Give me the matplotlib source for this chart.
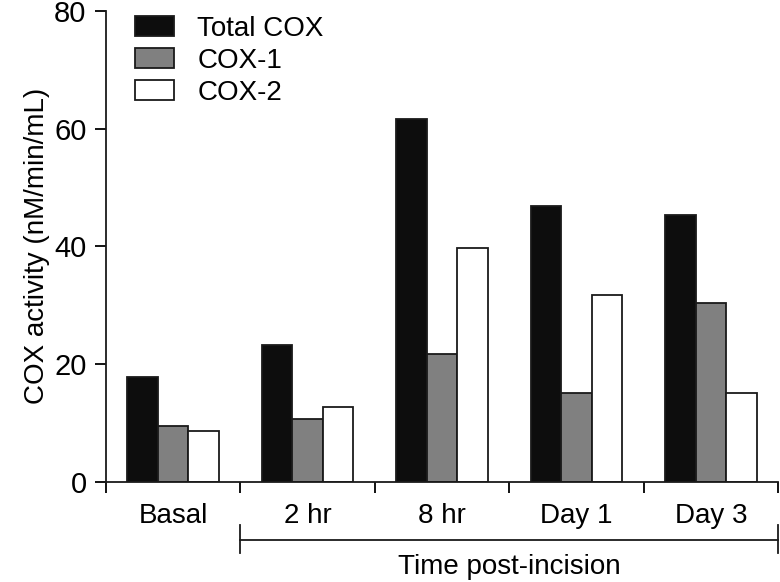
import numpy as np
import matplotlib
matplotlib.use('Agg')
import matplotlib.pyplot as plt
import matplotlib.transforms as mtransforms

plt.rcParams['font.family'] = ['Liberation Sans', 'DejaVu Sans']

categories = ["Basal", "2 hr", "8 hr", "Day 1", "Day 3"]
total_cox = [17.8, 23.2, 61.6, 46.9, 45.4]
cox1 = [9.5, 10.6, 21.7, 15.0, 30.4]
cox2 = [8.7, 12.7, 39.7, 31.8, 15.1]
series_names = ["Total COX", "COX-1", "COX-2"]
y_ticks = [0, 20, 40, 60, 80]

fig = plt.figure(figsize=(7.8, 5.82), dpi=100)
ax = fig.add_axes([106 / 780, 1 - 481.7 / 582, 672 / 780, 470.7 / 582])

x = np.arange(len(categories))
w = 0.227
colors = ["#0d0d0d", "#808080", "#ffffff"]
for i, (vals, name) in enumerate(zip([total_cox, cox1, cox2], series_names)):
    ax.bar(x + (i - 1) * w, vals, w, color=colors[i], edgecolor="#1a1a1a",
           linewidth=1.3, label=name)

ax.set_xlim(-0.5, len(categories) - 0.5)
ax.set_ylim(0, 80)
ax.set_yticks(y_ticks)
ax.spines["top"].set_visible(False)
ax.spines["right"].set_visible(False)
for s in ["left", "bottom"]:
    ax.spines[s].set_linewidth(1.3)
    ax.spines[s].set_color("#1a1a1a")

# boundary ticks on x, labels at centers
ax.set_xticks(np.arange(-0.5, len(categories), 1.0))
ax.set_xticklabels([])
ax.set_xticks(x, minor=True)
ax.set_xticklabels(categories, minor=True)
ax.tick_params(axis="x", which="major", direction="out", length=8, width=1.3)
ax.tick_params(axis="x", which="minor", length=0, pad=15, labelsize=20)
ax.tick_params(axis="y", direction="out", length=8, width=1.3, pad=6, labelsize=21)

ax.set_ylabel("COX activity (nM/min/mL)", fontsize=20, labelpad=3)

# bracket for time post-incision
trans = mtransforms.blended_transform_factory(ax.transData, ax.transAxes)
yb = -0.124
ax.plot([0.5, 4.5], [yb, yb], color="#1a1a1a", lw=1.3, transform=trans, clip_on=False)
for xe in [0.5, 4.5]:
    ax.plot([xe, xe], [-0.092, -0.151], color="#1a1a1a", lw=1.3, transform=trans, clip_on=False)
ax.text(2.5, -0.182, "Time post-incision", transform=trans, ha="center", va="center", fontsize=20)

leg = ax.legend(loc="upper left", bbox_to_anchor=(0.043, 0.99), frameon=False,
                fontsize=20, handlelength=1.4, handleheight=0.75, handletextpad=0.85,
                labelspacing=0.22, borderpad=0, borderaxespad=0)

fig.savefig("out.png", dpi=100)
